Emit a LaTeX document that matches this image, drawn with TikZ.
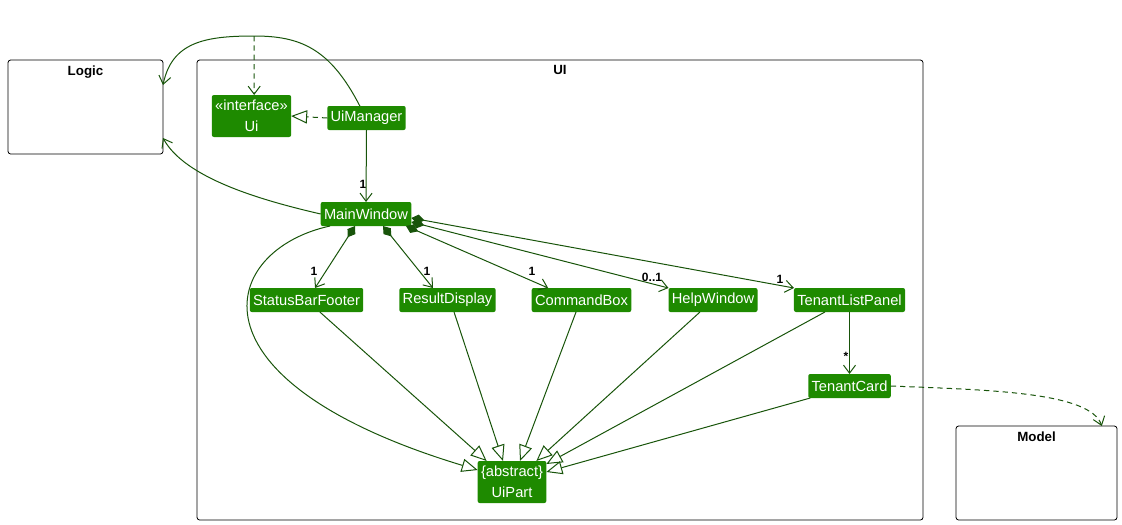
\documentclass[tikz,border=0pt]{standalone}
\usepackage{fontspec}
\setmainfont{Liberation Sans}
\usetikzlibrary{arrows.meta}
\definecolor{uigreen}{RGB}{30,138,0}
\definecolor{linegreen}{RGB}{24,84,10}

\begin{document}
\begin{tikzpicture}[x=0.75pt, y=-0.75pt,
    cls/.style={rectangle, rounded corners=1.5pt, fill=uigreen, text=white, font=\fontsize{11}{15.5}\selectfont, minimum height=18pt, inner xsep=2.5pt, inner ysep=1pt, align=center, outer sep=0pt},
    pkg/.style={rectangle, draw, rounded corners=2pt, line width=0.6pt, inner sep=0pt, outer sep=0pt},
    ptitle/.style={font=\bfseries\fontsize{10}{12}\selectfont, inner sep=1pt},
    mult/.style={font=\bfseries\fontsize{9}{10}\selectfont, inner sep=0pt},
    dep/.style={draw=linegreen, line width=0.75pt, -{Straight Barb[length=6pt,width=9pt]}},
    dashdep/.style={dep, dash pattern=on 4pt off 3pt},
    comp/.style={draw=linegreen, line width=0.75pt, {Diamond[length=10pt,width=7pt,fill=linegreen]}-{Straight Barb[length=6pt,width=9pt]}},
    inherit/.style={draw=linegreen, line width=0.75pt, -{Triangle[open,length=12pt,width=10pt,fill=white]}},
    realize/.style={inherit, dash pattern=on 4pt off 3pt}]
    \useasboundingbox (0,0) rectangle (1122,525);

    % Packages
    \node[pkg, minimum width=116.25pt, minimum height=70.5pt] (Logic) at (85.5,107) {};
    \node[ptitle, below=3pt] (LogicTitle) at (Logic.north) {Logic};
    \node[pkg, minimum width=544.5pt, minimum height=345pt] (UI) at (560,290) {};
    \node[ptitle, below=3pt] (UITitle) at (UI.north) {UI};
    \node[pkg, minimum width=120.75pt, minimum height=70.5pt] (Model) at (1036.5,473) {};
    \node[ptitle, below=3pt] (ModelTitle) at (Model.north) {Model};

    % Classes
    \node[cls, minimum width=59.25pt, minimum height=31.5pt] (Ui) at (251.5,116) {«interface»\\Ui};
    \node[cls] (UiManager) at (366.5,118) {UiManager};
    \node[cls] (MainWindow) at (366,214) {MainWindow};
    \node[cls] (StatusBarFooter) at (306.5,300) {StatusBarFooter};
    \node[cls] (ResultDisplay) at (447.5,300) {ResultDisplay};
    \node[cls] (CommandBox) at (581.5,300) {CommandBox};
    \node[cls] (HelpWindow) at (713,300) {HelpWindow};
    \node[cls] (TenantListPanel) at (849.5,300) {TenantListPanel};
    \node[cls] (TenantCard) at (849.5,386) {TenantCard};
    \node[cls, minimum width=51pt, minimum height=31.5pt] (UiPart) at (512,482) {\{abstract\}\\UiPart};

    % Multiplicities
    \node[mult] (mMain) at (363,184) {1};
    \node[mult] (mStatus) at (314,271) {1};
    \node[mult] (mResult) at (427,271) {1};
    \node[mult] (mCommand) at (532,271) {1};
    \node[mult] (mHelp) at (652,277) {0..1};
    \node[mult] (mList) at (780,279) {1};
    \node[mult] (mCard) at (846,356) {*};

    % Edges
    \coordinate (top) at (254,36);
    \draw[dep] ([xshift=-5pt]UiManager.north) .. controls (330,48) and (300,36) .. (top)
        .. controls (205,36) and (172,42) .. ([yshift=16.5pt]Logic.east);
    \draw[dashdep] (top) -- ([xshift=2pt]Ui.north);
    \draw[realize] (UiManager.west) -- (Ui.east);
    \draw[dep] (UiManager.south) -- (MainWindow.north);
    \draw[dep] (MainWindow.west) .. controls (260,200) and (185,178) .. ([yshift=-23.25pt]Logic.east);

    \draw[comp] ([xshift=-8.25pt]MainWindow.south) -- ([xshift=6.4pt]StatusBarFooter.north);
    \draw[comp] ([xshift=12.75pt]MainWindow.south) -- ([xshift=-10.9pt]ResultDisplay.north);
    \draw[comp] ([xshift=-4pt]MainWindow.south east) -- ([xshift=-25pt]CommandBox.north);
    \draw[comp] ([yshift=-6pt]MainWindow.east) -- (HelpWindow.north west);
    \draw[comp] ([yshift=-3pt]MainWindow.east) -- (TenantListPanel.north west);
    \draw[dep] (TenantListPanel.south) -- (TenantCard.north);
    \draw[dashdep] (TenantCard.east) .. controls (990,390) and (1090,392) .. ([xshift=49pt]Model.north);

    \draw[inherit] ([xshift=7pt]MainWindow.south west) .. controls (220,250) and (180,380) .. ([yshift=9pt]UiPart.west);
    \draw[inherit] ([xshift=10pt]StatusBarFooter.south) -- ([xshift=6.75pt]UiPart.north west);
    \draw[inherit] ([xshift=4.9pt]ResultDisplay.south) -- ([xshift=-6.75pt]UiPart.north);
    \draw[inherit] ([xshift=-4.1pt]CommandBox.south) -- ([xshift=6pt]UiPart.north);
    \draw[inherit] ([xshift=-9.75pt]HelpWindow.south) -- ([xshift=-7.5pt]UiPart.north east);
    \draw[inherit] ([xshift=-18.4pt]TenantListPanel.south) -- ([yshift=13.5pt]UiPart.east);
    \draw[inherit] ([xshift=1.5pt]TenantCard.south west) -- ([yshift=7.5pt]UiPart.east);
\end{tikzpicture}
\end{document}
